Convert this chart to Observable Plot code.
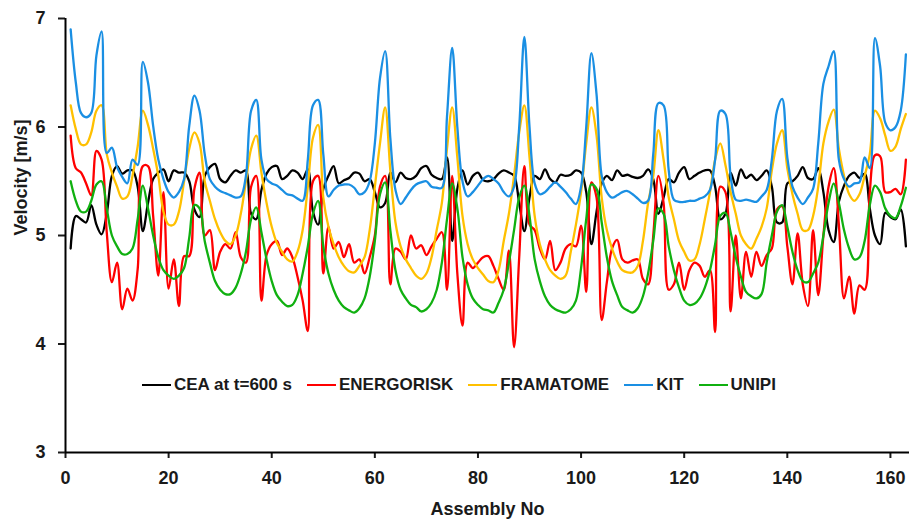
<!DOCTYPE html>
<html><head><meta charset="utf-8">
<script src="https://cdn.jsdelivr.net/npm/d3@7"></script>
<script src="https://cdn.jsdelivr.net/npm/@observablehq/plot@0.6"></script>
<style>
body{margin:0;background:#fff;}
#wrap{position:relative;width:909px;height:523px;font-family:"Liberation Sans",Arial,sans-serif;}
.legend{position:absolute;left:142px;top:375px;display:flex;align-items:center;font-weight:bold;font-size:17px;color:#1a1a1a;gap:15px;white-space:nowrap;}
.item{display:flex;align-items:center;}
.sw{width:29px;height:2.4px;margin-right:3px;}
</style></head><body><div id="wrap"></div>
<script>
const seriesNames = ["CEA at t=600 s", "ENERGORISK", "FRAMATOME", "KIT", "UNIPI"];
const seriesColors = ["#000000", "#ff0000", "#ffc000", "#1a8fe3", "#10b010"];
const xTicks = [0, 20, 40, 60, 80, 100, 120, 140, 160];
const yTicks = [3, 4, 5, 6, 7];

const cea = [4.88,5.18,5.15,5.12,5.28,5.10,5.01,5.20,5.55,5.64,5.57,5.60,5.60,5.45,5.04,5.30,5.52,5.58,5.61,5.50,
5.60,5.58,5.58,5.50,5.24,5.17,5.55,5.63,5.66,5.52,5.49,5.55,5.60,5.58,5.60,5.20,5.15,5.42,5.57,5.63,
5.64,5.52,5.55,5.60,5.58,5.52,5.61,5.22,5.10,5.43,5.55,5.64,5.48,5.51,5.53,5.58,5.57,5.50,5.52,5.40,
5.26,5.30,5.58,5.49,5.58,5.53,5.52,5.55,5.62,5.64,5.56,5.53,5.52,5.72,4.95,5.43,5.60,5.47,5.55,5.58,
5.51,5.50,5.52,5.57,5.60,5.58,5.55,5.30,5.04,5.35,5.55,5.52,5.61,5.52,5.49,5.56,5.55,5.56,5.60,5.58,
5.40,4.92,5.22,5.48,5.55,5.51,5.60,5.55,5.56,5.54,5.53,5.55,5.61,5.52,5.20,5.35,5.52,5.49,5.58,5.63,
5.52,5.55,5.58,5.60,5.60,5.45,5.15,5.20,5.58,5.46,5.61,5.53,5.56,5.51,5.55,5.60,5.45,5.12,5.12,5.48,
5.50,5.55,5.63,5.53,5.52,5.62,5.40,5.05,4.94,5.31,5.46,5.55,5.58,5.53,5.57,5.25,5.00,4.92,5.21,5.17,
5.15,5.24,4.90];

const energorisk = [5.92,5.62,5.58,5.48,5.37,5.78,5.70,5.03,4.57,4.75,4.32,4.51,4.40,4.69,5.64,5.64,5.18,4.63,5.40,4.51,
4.78,4.35,4.81,4.81,5.43,5.58,5.00,5.05,4.68,4.85,4.92,4.88,5.03,4.80,4.75,5.45,5.55,4.40,4.82,4.92,
4.95,4.82,4.88,4.80,4.62,4.40,4.12,5.50,5.55,4.65,5.08,4.88,4.94,4.80,4.92,4.75,4.78,4.65,4.80,5.00,
5.45,5.55,4.55,4.88,4.85,4.78,5.00,4.88,4.91,4.82,4.90,4.97,5.03,4.50,5.55,4.65,4.17,4.75,4.70,4.75,
4.80,4.81,4.72,4.60,4.50,4.86,3.97,4.80,5.64,5.10,5.05,4.88,4.78,4.95,4.68,4.75,4.88,4.92,4.90,5.09,
4.48,5.49,5.35,4.22,4.57,4.88,4.96,4.78,4.75,4.77,4.78,4.60,4.55,5.00,5.55,5.30,4.50,4.55,4.75,4.50,
4.68,4.75,4.72,4.62,4.68,4.11,5.45,5.40,4.30,5.00,4.42,4.85,4.62,4.85,4.72,4.82,4.88,5.24,5.27,4.90,
4.55,5.02,4.55,4.35,5.05,4.45,5.00,5.45,5.62,5.10,4.42,4.62,4.28,4.54,4.50,5.40,5.74,5.73,5.40,5.40,
5.43,5.38,5.70];

const framatome = [6.20,5.98,5.84,5.84,5.95,6.15,6.20,5.75,5.58,5.45,5.34,5.36,5.55,5.82,6.15,6.02,5.80,5.55,5.22,5.10,
5.10,5.22,5.50,5.80,5.95,5.85,5.50,5.32,5.15,5.03,4.95,4.92,5.00,5.20,5.50,5.80,5.92,5.58,5.30,5.08,
4.93,4.85,4.78,4.76,4.85,5.05,5.45,5.90,6.02,5.35,5.08,4.92,4.80,4.72,4.67,4.66,4.72,4.80,5.05,5.45,
5.85,6.18,5.60,5.12,4.90,4.78,4.70,4.63,4.60,4.65,4.80,5.05,5.30,5.80,6.18,5.72,5.18,4.92,4.78,4.70,
4.64,4.58,4.57,4.68,4.95,5.20,5.55,5.95,6.20,5.72,5.18,4.92,4.78,4.68,4.63,4.60,4.63,4.85,5.10,5.40,
5.85,6.18,5.92,5.35,5.05,4.88,4.76,4.68,4.66,4.66,4.72,4.95,5.30,5.55,5.97,5.70,5.35,5.15,4.95,4.85,
4.77,4.78,4.92,5.15,5.40,5.70,5.85,5.65,5.40,5.20,5.00,4.92,4.88,4.97,5.08,5.25,5.60,5.85,5.97,5.62,
5.38,5.20,5.05,5.05,5.18,5.45,5.85,6.05,6.16,5.80,5.55,5.38,5.32,5.38,5.55,5.75,6.15,6.08,5.92,5.78,
5.82,5.98,6.12];

const kit = [6.90,6.41,6.13,6.09,6.13,6.66,6.88,5.76,5.81,5.63,5.54,5.48,5.70,5.65,6.60,6.41,6.01,5.70,5.52,5.40,
5.35,5.40,5.52,6.01,6.29,6.15,5.75,5.52,5.45,5.41,5.39,5.37,5.35,5.36,5.55,6.15,6.25,5.70,5.52,5.48,
5.46,5.42,5.38,5.37,5.34,5.32,5.70,6.20,6.25,5.75,5.36,5.42,5.46,5.47,5.47,5.44,5.38,5.40,5.50,5.85,
6.45,6.70,5.90,5.42,5.29,5.35,5.42,5.47,5.49,5.50,5.45,5.44,5.44,6.10,6.73,6.00,5.50,5.36,5.40,5.46,
5.52,5.55,5.52,5.48,5.40,5.36,5.45,6.00,6.83,6.00,5.48,5.38,5.40,5.45,5.49,5.45,5.40,5.34,5.29,5.45,
6.00,6.68,6.30,5.55,5.40,5.35,5.37,5.40,5.41,5.38,5.34,5.30,5.32,5.75,6.22,6.20,5.60,5.33,5.31,5.31,
5.32,5.32,5.34,5.36,5.42,5.70,6.15,6.12,5.55,5.33,5.32,5.33,5.32,5.31,5.36,5.42,5.70,6.15,6.26,5.72,
5.45,5.35,5.29,5.35,5.43,5.85,6.40,6.56,6.70,5.70,5.52,5.45,5.48,5.49,5.72,5.62,6.82,6.56,6.04,5.97,
6.00,6.15,6.67];

const unipi = [5.50,5.32,5.22,5.22,5.32,5.47,5.50,5.25,5.00,4.90,4.83,4.83,4.88,5.15,5.46,5.25,5.00,4.80,4.68,4.63,
4.60,4.63,4.70,4.98,5.28,5.25,4.95,4.75,4.58,4.50,4.46,4.46,4.52,4.65,4.85,5.15,5.26,5.03,4.78,4.58,
4.45,4.39,4.35,4.36,4.45,4.65,4.90,5.20,5.32,4.90,4.65,4.50,4.40,4.34,4.31,4.29,4.33,4.42,4.62,4.95,
5.38,5.49,5.05,4.68,4.50,4.42,4.36,4.34,4.30,4.32,4.38,4.50,4.75,5.15,5.48,5.25,4.80,4.55,4.42,4.36,
4.32,4.31,4.29,4.38,4.50,4.75,5.05,5.35,5.46,5.18,4.78,4.58,4.44,4.36,4.32,4.30,4.29,4.32,4.40,4.70,
5.15,5.47,5.43,5.12,4.80,4.58,4.45,4.34,4.31,4.29,4.33,4.44,4.65,4.95,5.25,5.20,4.90,4.68,4.52,4.40,
4.36,4.37,4.42,4.52,4.68,4.92,5.18,5.21,5.03,4.80,4.62,4.48,4.44,4.42,4.46,4.75,5.00,5.22,5.28,5.08,
4.85,4.68,4.58,4.57,4.65,4.75,5.00,5.30,5.48,5.30,5.05,4.88,4.78,4.80,4.95,5.28,5.46,5.40,5.25,5.18,
5.16,5.27,5.44];

const seriesValues = [cea, energorisk, framatome, kit, unipi];
const rows = [];
seriesValues.forEach((vals, si) => vals.forEach((v, i) => rows.push({assembly: i + 1, velocity: v, series: seriesNames[si]})));

const chart = Plot.plot({
  width: 909, height: 523,
  marginLeft: 65, marginRight: 0, marginTop: 18, marginBottom: 71,
  style: {fontFamily: "'Liberation Sans', Arial, sans-serif", fontSize: "18px", fontWeight: "bold", color: "#1a1a1a", background: "#fff", overflow: "visible"},
  x: {domain: [0, 163.7]},
  y: {domain: [3, 7]},
  color: {domain: seriesNames, range: seriesColors},
  marks: [
    Plot.axisX({ticks: xTicks, tickFormat: d => String(d), tickSize: 6, tickPadding: 13, strokeWidth: 2, label: null, fontSize: 18, fontWeight: "bold"}),
    Plot.axisY({ticks: yTicks, tickFormat: d => String(d), tickSize: 7, tickPadding: 13, strokeWidth: 2, label: null, fontSize: 18, fontWeight: "bold"}),
    Plot.ruleY([3], {stroke: "#000", strokeWidth: 2}),
    Plot.ruleX([0], {stroke: "#000", strokeWidth: 2}),
    ...seriesNames.map(name => Plot.line(rows.filter(d => d.series === name), {x: "assembly", y: "velocity", stroke: "series", strokeWidth: 2.3, curve: "catmull-rom"})),
    Plot.text(["Assembly No"], {frameAnchor: "bottom", dy: 57, lineAnchor: "middle", fontSize: 18, fontWeight: "bold", fill: "#1a1a1a"}),
    Plot.text(["Velocity [m/s]"], {frameAnchor: "left", dx: -44, rotate: -90, lineAnchor: "middle", fontSize: 18, fontWeight: "bold", fill: "#1a1a1a"})
  ]
});
const wrap = document.getElementById("wrap");
wrap.appendChild(chart);
const leg = document.createElement("div");
leg.className = "legend";
seriesNames.forEach((n, i) => {
  const it = document.createElement("div"); it.className = "item";
  const sw = document.createElement("span"); sw.className = "sw"; sw.style.background = seriesColors[i];
  const tx = document.createElement("span"); tx.textContent = n;
  it.appendChild(sw); it.appendChild(tx); leg.appendChild(it);
});
wrap.appendChild(leg);
</script></body></html>
